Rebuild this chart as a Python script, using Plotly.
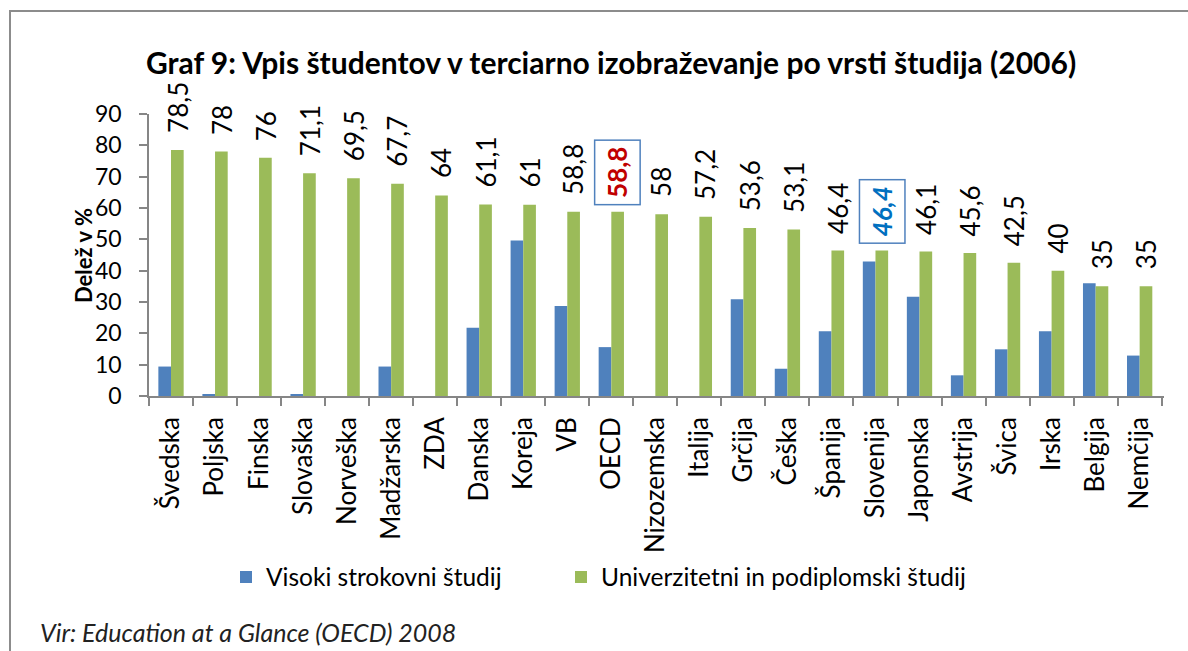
import plotly.graph_objects as go

categories = ["Švedska", "Poljska", "Finska", "Slovaška", "Norveška", "Madžarska", "ZDA",
              "Danska", "Koreja", "VB", "OECD", "Nizozemska", "Italija", "Grčija", "Češka",
              "Španija", "Slovenija", "Japonska", "Avstrija", "Švica", "Irska", "Belgija", "Nemčija"]
visoki = [9.4, 0.5, 0, 0.5, 0, 9.4, 0, 21.8, 49.6, 28.7, 15.6, 0, 0, 30.9, 8.7,
          20.7, 42.9, 31.7, 6.6, 14.9, 20.7, 36.0, 12.9]
univerzitetni = [78.5, 78, 76, 71.1, 69.5, 67.7, 64, 61.1, 61, 58.8, 58.8, 58, 57.2, 53.6, 53.1,
                 46.4, 46.4, 46.1, 45.6, 42.5, 40, 35, 35]
label_text = ["78,5", "78", "76", "71,1", "69,5", "67,7", "64", "61,1", "61", "58,8", "58,8", "58",
              "57,2", "53,6", "53,1", "46,4", "46,4", "46,1", "45,6", "42,5", "40", "35", "35"]
yticks = [0, 10, 20, 30, 40, 50, 60, 70, 80, 90]

W, H = 1188, 651
L, R, T, B = 149, 24, 114, 255
PW = W - L - R
PH = H - T - B
FONT = "Lato"

BLUE = "#4F81BD"
GREEN = "#9BBB59"
AXIS = "#868686"

def px_x(x):
    return (x - L) / PW

def px_y(y):
    return (H - B - y) / PH

fig = go.Figure()
fig.add_trace(go.Bar(x=categories, y=visoki, name="Visoki strokovni študij",
                     legendwidth=290,
                     marker=dict(color=BLUE, line=dict(width=0))))
fig.add_trace(go.Bar(x=categories, y=univerzitetni, name="Univerzitetni in podiplomski študij",
                     legendwidth=420,
                     marker=dict(color=GREEN, line=dict(width=0))))

bargap = 0.425
cat_w = PW / len(categories)
bar_w = cat_w * (1 - bargap) / 2

annotations = []
for c, v, t in zip(categories, univerzitetni, label_text):
    if c == "OECD":
        annotations.append(dict(x=c, y=v, xref="x", yref="y", text="<b>" + t + "</b>",
                                textangle=-90, showarrow=False, xanchor="center", yanchor="bottom",
                                xshift=bar_w / 2, yshift=6,
                                font=dict(family=FONT, size=26, color="#C00000"),
                                bordercolor=BLUE, borderwidth=1.5, borderpad=6, bgcolor="white"))
    elif c == "Slovenija":
        annotations.append(dict(x=c, y=v, xref="x", yref="y", text="<b><i>" + t + "</i></b>",
                                textangle=-90, showarrow=False, xanchor="center", yanchor="bottom",
                                xshift=bar_w / 2, yshift=7,
                                font=dict(family=FONT, size=26, color="#0070C0"),
                                bordercolor=BLUE, borderwidth=1.5, borderpad=6, bgcolor="white"))
    else:
        annotations.append(dict(x=c, y=v, xref="x", yref="y", text=t,
                                textangle=-90, showarrow=False, xanchor="center", yanchor="bottom",
                                xshift=bar_w / 2, yshift=15,
                                font=dict(family=FONT, size=26, color="#000000")))

# y-axis title
annotations.append(dict(x=px_x(83), y=px_y(256), xref="paper", yref="paper", text="<b>Delež v %</b>",
                        textangle=-90, showarrow=False, xanchor="center", yanchor="middle",
                        font=dict(family=FONT, size=22, color="#000000")))
# source
annotations.append(dict(x=px_x(38), y=px_y(632), xref="paper", yref="paper",
                        text="<i>Vir: Education at a Glance (OECD) 2008</i>",
                        showarrow=False, xanchor="left", yanchor="middle",
                        font=dict(family=FONT, size=25, color="#222222")))

shapes = [dict(type="path", xref="paper", yref="paper",
               path=f"M {px_x(10)},{px_y(700)} L {px_x(10)},{px_y(11)} L {px_x(1250)},{px_y(11)}",
               line=dict(color="#8C8C8C", width=2))]

fig.update_layout(
    width=W, height=H,
    margin=dict(l=L, r=R, t=T, b=B, autoexpand=False),
    paper_bgcolor="white", plot_bgcolor="white",
    barmode="group", bargap=bargap, bargroupgap=0,
    title=dict(text="<b>Graf 9: Vpis študentov v terciarno izobraževanje po vrsti študija (2006)</b>",
               x=611 / W, xanchor="center", xref="container",
               y=1 - 63 / H, yanchor="middle", yref="container",
               font=dict(family=FONT, size=30, color="#000000")),
    xaxis=dict(type="category", showline=True, linecolor=AXIS, linewidth=1.5,
               ticks="outside", tickson="boundaries", ticklen=8, tickcolor=AXIS, tickwidth=1.5,
               tickangle=-90, tickfont=dict(family=FONT, size=26, color="#000000"),
               ticklabelstandoff=9, showgrid=False, zeroline=False),
    yaxis=dict(range=[0, 90], tickvals=yticks, ticktext=[str(v) for v in yticks],
               showline=True, linecolor=AXIS, linewidth=1.5,
               ticks="outside", ticklen=8, tickcolor=AXIS, tickwidth=1.5,
               tickfont=dict(family=FONT, size=23, color="#000000"),
               ticklabelstandoff=13, showgrid=False, zeroline=False),
    legend=dict(orientation="h", x=px_x(226), xanchor="left", y=px_y(577), yanchor="middle",
                font=dict(family=FONT, size=24.5, color="#000000"), bgcolor="rgba(0,0,0,0)"),
    annotations=annotations,
    shapes=shapes,
    showlegend=True,
)

fig.write_html("out.html", config={"displayModeBar": False},
               post_script="document.body.style.margin='0';document.body.style.overflow='hidden';")
